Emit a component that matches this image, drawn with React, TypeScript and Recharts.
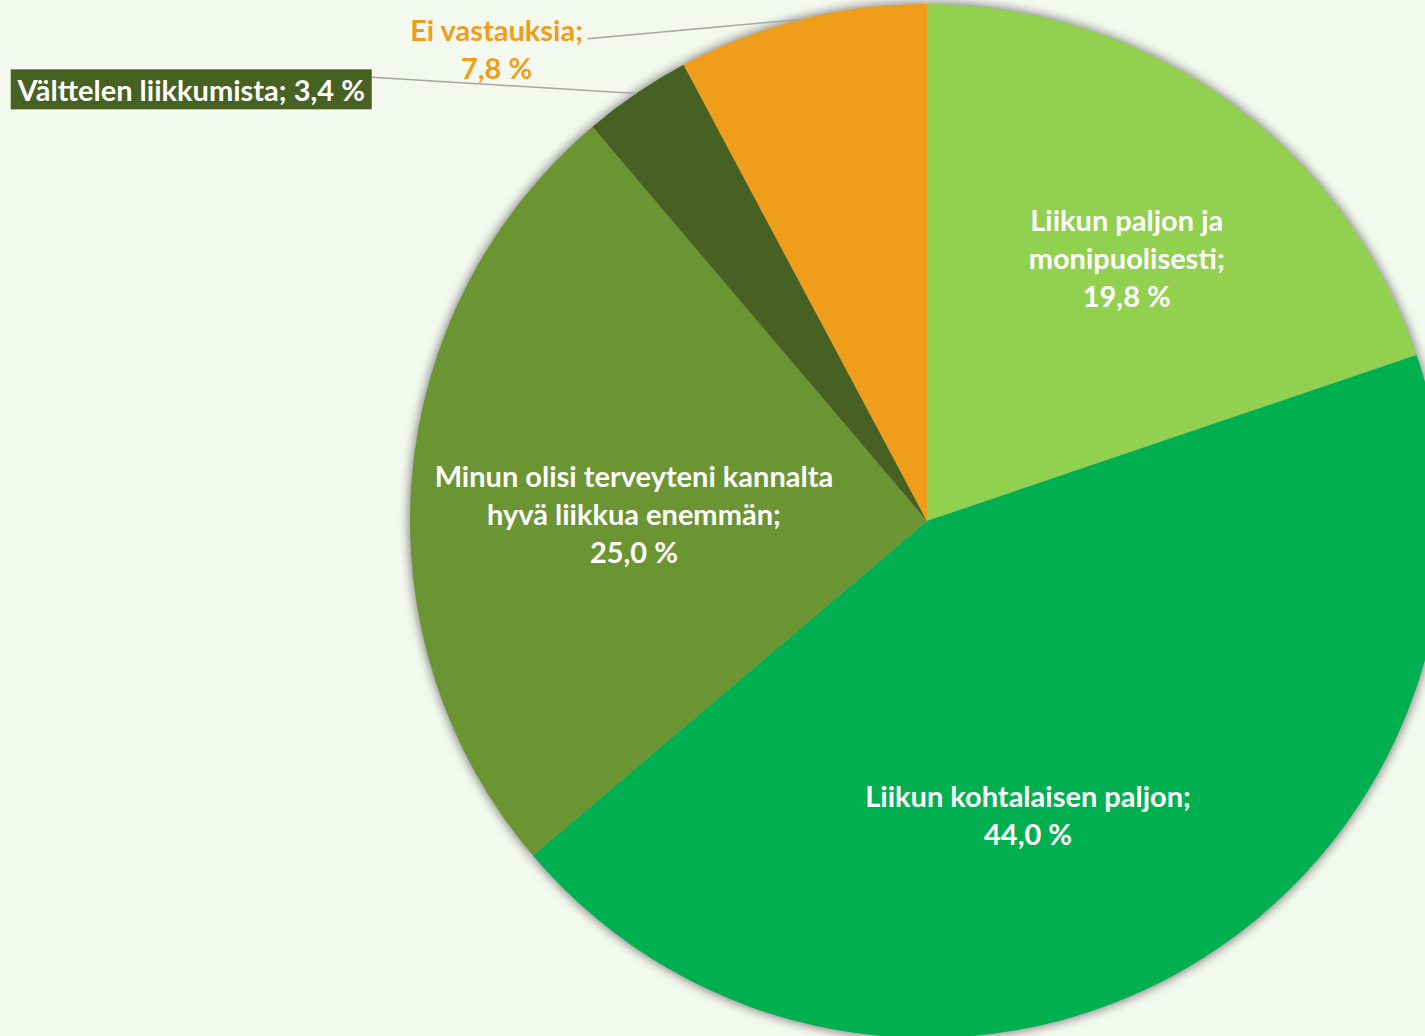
import React from 'react';
import { PieChart, Pie, Cell } from 'recharts';

// Survey answers, share of respondents (%)
const categories = [
  'Liikun paljon ja monipuolisesti',
  'Liikun kohtalaisen paljon',
  'Minun olisi terveyteni kannalta hyvä liikkua enemmän',
  'Välttelen liikkumista',
  'Ei vastauksia'
];
const shares = [19.8, 44.0, 25.0, 3.4, 7.8];

// how each category name is broken onto lines in its label
const labelText = [
  ['Liikun paljon ja', 'monipuolisesti;'],
  ['Liikun kohtalaisen paljon;'],
  ['Minun olisi terveyteni kannalta', 'hyvä liikkua enemmän;'],
  ['Välttelen liikkumista;'],
  ['Ei vastauksia;']
];

const SLICE_COLORS = ['#92d050', '#00b050', '#6a9532', '#466121', '#f19d1c'];
const BG = '#f3f9ee';
const FONT = "Lato, 'Open Sans', sans-serif";
const FS = 29;
const LINE_H = 38;

// label placement: radius as a fraction of outer radius, angle offset from slice mid angle
const LABEL_PLACE = [
  { r: 0.64, shift: -1.5 },
  { r: 0.6, shift: -10.5 },
  { r: 0.567, shift: 3.3 },
  { r: 1.65, shift: 25.4 },
  { r: 1.236, shift: 28.3 }
];

const RAD = Math.PI / 180;
const fmtPct = (v: number) => `${v.toFixed(1).replace('.', ',')} %`;

const data = categories.map((name, i) => ({ name, value: shares[i] }));

const renderLabel = (props: any) => {
  const { cx, cy, midAngle, outerRadius, index } = props;
  const place = LABEL_PLACE[index];
  const ang = (midAngle + place.shift) * RAD;
  const lx = cx + outerRadius * place.r * Math.cos(ang);
  const ly = cy - outerRadius * place.r * Math.sin(ang);
  const ex = cx + outerRadius * Math.cos(midAngle * RAD);
  const ey = cy - outerRadius * Math.sin(midAngle * RAD);
  const pct = fmtPct(shares[index]);

  if (index === 3) {
    // boxed single-line label with leader line
    const w = 361;
    return (
      <g key={`lbl-${index}`}>
        <line x1={lx + w / 2} y1={ly - 12} x2={ex} y2={ey} stroke="#a6a6a6" strokeWidth={1.5} />
        <rect x={lx - w / 2} y={ly - 20} width={w} height={40} fill={SLICE_COLORS[index]} />
        <text x={lx} y={ly} textAnchor="middle" dominantBaseline="central" fill="#fff"
          fontFamily={FONT} fontWeight={700} fontSize={FS}>
          {`${labelText[index][0]} ${pct}`}
        </text>
      </g>
    );
  }

  if (index === 4) {
    return (
      <g key={`lbl-${index}`}>
        <line x1={lx + 91} y1={ly - 10} x2={ex} y2={ey} stroke="#a6a6a6" strokeWidth={1.5} />
        {[...labelText[index], pct].map((t, i, arr) => (
          <text key={i} x={lx} y={ly + (i - (arr.length - 1) / 2) * LINE_H} textAnchor="middle"
            dominantBaseline="central" fill={SLICE_COLORS[index]}
            fontFamily={FONT} fontWeight={700} fontSize={FS}>
            {t}
          </text>
        ))}
      </g>
    );
  }

  const lines = [...labelText[index], pct];
  return (
    <g key={`lbl-${index}`}>
      {lines.map((t, i) => (
        <text key={i} x={lx} y={ly + (i - (lines.length - 1) / 2) * LINE_H} textAnchor="middle"
          dominantBaseline="central" fill="#fff"
          fontFamily={FONT} fontWeight={700} fontSize={FS}>
          {t}
        </text>
      ))}
    </g>
  );
};

export default function App() {
  return (
    <div style={{ position: 'absolute', left: 0, top: 0, width: 1425, height: 1036, background: BG, overflow: 'hidden' }}>
      <svg width={0} height={0} style={{ position: 'absolute' }}>
        <defs>
          <filter id="pieShadow" x="-10%" y="-10%" width="120%" height="120%">
            <feGaussianBlur stdDeviation={5} />
          </filter>
        </defs>
      </svg>
      <PieChart width={1425} height={1036} margin={{ top: 0, right: 0, bottom: 0, left: 0 }}>
        {/* soft shadow under the pie */}
        <Pie
          data={data}
          dataKey="value"
          nameKey="name"
          cx={927}
          cy={521}
          outerRadius={519}
          startAngle={90}
          endAngle={-270}
          stroke="none"
          isAnimationActive={false}
        >
          {data.map((_, i) => (
            <Cell key={`s-${i}`} fill="#8c8c8c" filter="url(#pieShadow)" />
          ))}
        </Pie>
        <Pie
          data={data}
          dataKey="value"
          nameKey="name"
          cx={927}
          cy={521}
          outerRadius={517}
          startAngle={90}
          endAngle={-270}
          stroke="none"
          label={renderLabel}
          labelLine={false}
          isAnimationActive={false}
        >
          {data.map((_, i) => (
            <Cell key={`c-${i}`} fill={SLICE_COLORS[i]} />
          ))}
        </Pie>
      </PieChart>
    </div>
  );
}
